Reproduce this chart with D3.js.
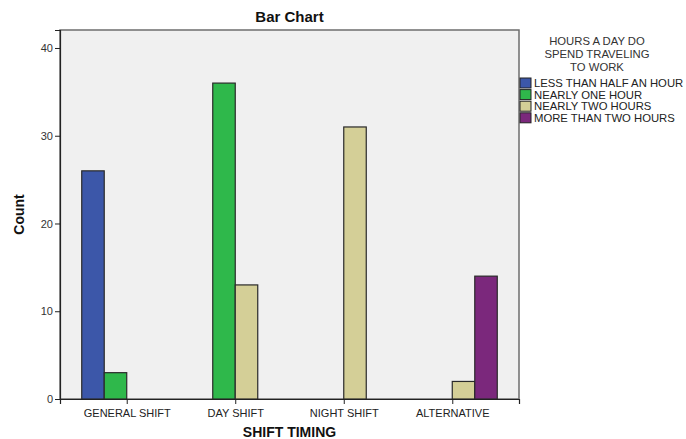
<!DOCTYPE html>
<html><head><meta charset="utf-8">
<script src="https://cdn.jsdelivr.net/npm/d3@7"></script>
<style>
body{margin:0;background:#fff;}
text{font-family:"Liberation Sans",Arial,sans-serif;}
</style></head>
<body><svg id="c" width="686" height="439"></svg>
<script>
const categories = ["GENERAL SHIFT","DAY SHIFT","NIGHT SHIFT","ALTERNATIVE"];
const seriesNames = ["LESS THAN HALF AN HOUR","NEARLY ONE HOUR","NEARLY TWO HOURS","MORE THAN TWO HOURS"];
const lessThanHalf = [26, 0, 0, 0];
const nearlyOne = [3, 36, 0, 0];
const nearlyTwo = [0, 13, 31, 2];
const moreThanTwo = [0, 0, 0, 14];
const yTicks = [0, 10, 20, 30, 40];
const colors = ["#3c57a9","#2fb84b","#d4cf97","#7b287c"];
const seriesValues = [lessThanHalf, nearlyOne, nearlyTwo, moreThanTwo];

const svg = d3.select("#c");
const L = 60, R = 519, T = 30, B = 399;

svg.append("rect").attr("x",L).attr("y",T).attr("width",R-L).attr("height",B-T)
  .attr("fill","#f0f0f0").attr("stroke","#6e6e6e").attr("stroke-width",1.5);

const x = d3.scalePoint().domain(categories).range([L,R]).padding(0.615);
const y = d3.scaleLinear().domain([0, 42.05]).range([B, T]);
const bw = 22.5;

const data = [];
categories.forEach((c,i)=>{
  seriesValues.forEach((s,j)=>{
    if (s[i] > 0) data.push({c, j, v:s[i]});
  });
});

svg.append("g").selectAll("rect").data(data).join("rect")
  .attr("x", d => x(d.c) + (d.j - 2) * bw)
  .attr("y", d => y(d.v))
  .attr("width", bw)
  .attr("height", d => y(0) - y(d.v))
  .attr("fill", d => colors[d.j])
  .attr("stroke", "#2a2a2a").attr("stroke-width", 1.2);

// Y axis
const ya = svg.append("g").attr("transform",`translate(${L},0)`)
  .call(d3.axisLeft(y).tickValues(yTicks).tickSize(5).tickPadding(2).tickFormat(d3.format("d")));
ya.select(".domain").attr("stroke","#222").attr("stroke-width",1.2);
ya.selectAll(".tick line").attr("stroke","#222");
ya.selectAll("text").attr("font-size",11).attr("fill","#333").attr("font-family","Liberation Sans, Arial, sans-serif");

// X axis
const xa = svg.append("g").attr("transform",`translate(0,${B})`)
  .call(d3.axisBottom(x).tickSize(5).tickPadding(5));
xa.select(".domain").attr("stroke","#222").attr("stroke-width",1.2);
xa.selectAll(".tick line").attr("stroke","#222");
xa.selectAll("text").attr("font-size",11).attr("fill","#222").attr("font-family","Liberation Sans, Arial, sans-serif");

// Titles
svg.append("text").attr("x",(L+R)/2).attr("y",22).attr("text-anchor","middle")
  .attr("font-size",15).attr("font-weight","bold").attr("fill","#111").text("Bar Chart");
svg.append("text").attr("x",(L+R)/2).attr("y",437).attr("text-anchor","middle")
  .attr("font-size",14).attr("font-weight","bold").attr("fill","#111").text("SHIFT TIMING");
svg.append("text").attr("transform",`translate(24,${(T+B)/2}) rotate(-90)`).attr("text-anchor","middle")
  .attr("font-size",14).attr("font-weight","bold").attr("fill","#111").text("Count");

// Legend
const lgTitle = ["HOURS A DAY DO","SPEND TRAVELING","TO WORK"];
svg.append("g").selectAll("text").data(lgTitle).join("text")
  .attr("x",597).attr("y",(d,i)=>45 + i*13).attr("text-anchor","middle")
  .attr("font-size",11.3).attr("fill","#333").text(d=>d);
const lg = svg.append("g").selectAll("g").data(seriesNames).join("g")
  .attr("transform",(d,i)=>`translate(520,${78 + i*11.6})`);
lg.append("rect").attr("width",11).attr("height",10).attr("fill",(d,i)=>colors[i])
  .attr("stroke","#222").attr("stroke-width",1);
lg.append("text").attr("x",14).attr("y",9).attr("font-size",11.3).attr("fill","#222").text(d=>d);
</script></body></html>
